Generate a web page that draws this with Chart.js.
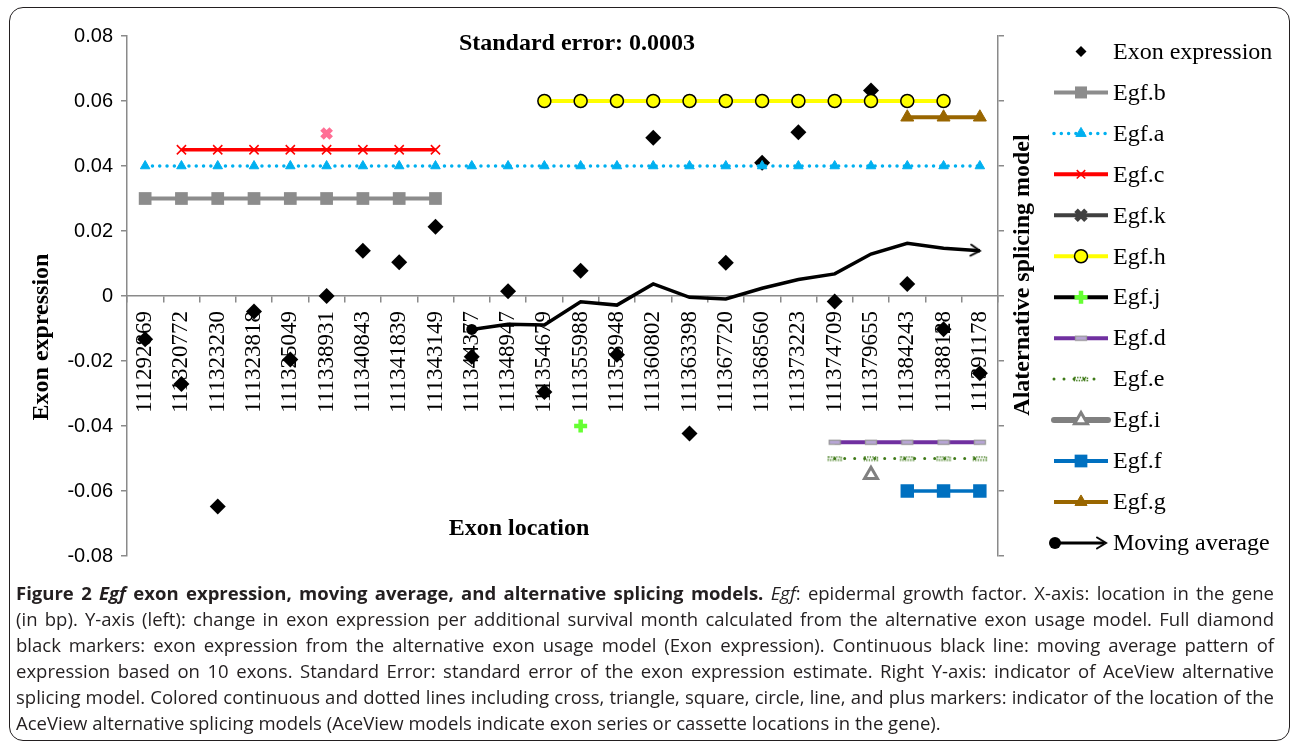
<!DOCTYPE html>
<html>
<head>
<meta charset="utf-8">
<script src="https://cdn.jsdelivr.net/npm/chart.js@4.4.1/dist/chart.umd.min.js"></script>
<style>
html,body{margin:0;padding:0;background:#fff;}
#wrap{position:relative;width:1292px;height:744px;overflow:hidden;background:#fff;}
#frame{position:absolute;left:9px;top:7px;width:1281px;height:734px;box-sizing:border-box;border:1.6px solid #231f20;border-radius:14px;pointer-events:none;}
#chart{position:absolute;left:0;top:0;}
#caption{position:absolute;left:16px;top:580px;width:1258px;font-family:"Open Sans";color:#231f20;line-height:26px;font-size:16px;}
.ln{white-space:nowrap;text-align:justify;text-align-last:justify;}
.ln.last{text-align:left;text-align-last:left;}
#caption.measure .ln{display:inline-block;text-align:left;text-align-last:left;}
</style>
</head>
<body>
<div id="wrap">
  <canvas id="chart" width="1292" height="577"></canvas>
  <div id="frame"></div>
  <div id="caption">
    <div class="ln"><b>Figure 2</b> <b><i>Egf</i> exon expression, moving average, and alternative splicing models.</b> <i>Egf</i>: epidermal growth factor. X-axis: location in the gene</div>
    <div class="ln">(in bp). Y-axis (left): change in exon expression per additional survival month calculated from the alternative exon usage model. Full diamond</div>
    <div class="ln">black markers: exon expression from the alternative exon usage model (Exon expression). Continuous black line: moving average pattern of</div>
    <div class="ln">expression based on 10 exons. Standard Error: standard error of the exon expression estimate. Right Y-axis: indicator of AceView alternative</div>
    <div class="ln">splicing model. Colored continuous and dotted lines including cross, triangle, square, circle, line, and plus markers: indicator of the location of the</div>
    <div class="ln last">AceView alternative splicing models (AceView models indicate exon series or cassette locations in the gene).</div>
  </div>
</div>
<script>
// ---------------- DATA ----------------
const exonLocations = ['111292869','111320772','111323230','111323818','111325049','111338931','111340843','111341839','111343149','111344377','111348947','111354679','111355988','111358948','111360802','111363398','111367720','111368560','111373223','111374709','111379655','111384243','111388128','111391178'];
const yTickLabels = ['-0.08','-0.06','-0.04','-0.02','0','0.02','0.04','0.06','0.08'];
const exonExpression = [-0.0133,-0.0271,-0.0648,-0.0048,-0.0195,0.0000,0.0139,0.0104,0.0213,-0.0187,0.0015,-0.0295,0.0078,-0.0181,0.0487,-0.0423,0.0102,0.0410,0.0504,-0.0017,0.0632,0.0037,-0.0102,-0.0238];
const movingAverage = [null,null,null,null,null,null,null,null,null,-0.0103,-0.0087,-0.0089,-0.0018,-0.0028,0.0037,-0.0004,-0.0009,0.0024,0.0051,0.0068,0.0129,0.0162,0.0147,0.0139];
const egfB = [0.03,0.03,0.03,0.03,0.03,0.03,0.03,0.03,0.03,null,null,null,null,null,null,null,null,null,null,null,null,null,null,null];
const egfA = [0.04,0.04,0.04,0.04,0.04,0.04,0.04,0.04,0.04,0.04,0.04,0.04,0.04,0.04,0.04,0.04,0.04,0.04,0.04,0.04,0.04,0.04,0.04,0.04];
const egfC = [null,0.045,0.045,0.045,0.045,0.045,0.045,0.045,0.045,null,null,null,null,null,null,null,null,null,null,null,null,null,null,null];
const egfK = [null,null,null,null,null,0.05,null,null,null,null,null,null,null,null,null,null,null,null,null,null,null,null,null,null];
const egfH = [null,null,null,null,null,null,null,null,null,null,null,0.06,0.06,0.06,0.06,0.06,0.06,0.06,0.06,0.06,0.06,0.06,0.06,null];
const egfJ = [null,null,null,null,null,null,null,null,null,null,null,null,-0.04,null,null,null,null,null,null,null,null,null,null,null];
const egfD = [null,null,null,null,null,null,null,null,null,null,null,null,null,null,null,null,null,null,null,-0.045,-0.045,-0.045,-0.045,-0.045];
const egfE = [null,null,null,null,null,null,null,null,null,null,null,null,null,null,null,null,null,null,null,-0.05,-0.05,-0.05,-0.05,-0.05];
const egfI = [null,null,null,null,null,null,null,null,null,null,null,null,null,null,null,null,null,null,null,null,-0.055,null,null,null];
const egfF = [null,null,null,null,null,null,null,null,null,null,null,null,null,null,null,null,null,null,null,null,null,-0.06,-0.06,-0.06];
const egfG = [null,null,null,null,null,null,null,null,null,null,null,null,null,null,null,null,null,null,null,null,null,0.055,0.055,0.055];
const chartTitle = 'Standard error: 0.0003';
const xTitle = 'Exon location';
const yTitle = 'Exon expression';
const y2Title = 'Alaternative splicing model';

// ---------------- custom markers ----------------
function mk(w, h, fn) { const c = document.createElement('canvas'); c.width = w; c.height = h; fn(c.getContext('2d')); return c; }
const dMarker = mk(14, 7, g => { g.fillStyle = '#b9a6d8'; g.fillRect(1.5, 1.5, 11, 4); g.strokeStyle = '#9a9a9a'; g.lineWidth = 1.3; g.strokeRect(1.5, 1.5, 11, 4); });
const eMarker = mk(16, 6, g => { g.strokeStyle = '#3f7a18'; g.lineWidth = 1.4; g.setLineDash([1.4, 1.2]); g.strokeRect(1.5, 1.5, 13, 3); });
const arrowHead = mk(30, 16, g => { g.strokeStyle = '#000'; g.lineWidth = 2; g.lineCap = 'round'; g.beginPath(); g.moveTo(6, 2.5); g.lineTo(15, 8); g.lineTo(6, 13.5); g.stroke(); });
const maFirst = movingAverage.findIndex(v => v !== null);
const maLast = movingAverage.length - 1;

// ---------------- datasets ----------------
function model(label, data, o) {
  return Object.assign({ label, data, yAxisID: 'y2', tension: 0, spanGaps: false, order: 1 }, o);
}
const datasets = [
  { label: 'Exon expression', data: exonExpression, yAxisID: 'y', showLine: false, order: 5,
    pointStyle: 'rectRot', pointRadius: 8, pointBackgroundColor: '#000', pointBorderColor: '#000', pointBorderWidth: 0,
    legendMark: { point: { style: 'rectRot', r: 5.5, fill: '#000', stroke: '#000', bw: 0 } } },
  model('Egf.b', egfB, { borderColor: '#8c8c8c', borderWidth: 4, pointStyle: 'rect', pointRadius: 9, pointBackgroundColor: '#8c8c8c', pointBorderColor: '#8c8c8c', pointBorderWidth: 0,
    legendMark: { line: { color: '#8c8c8c', width: 4 }, point: { style: 'rect', r: 8.5, fill: '#8c8c8c', stroke: '#8c8c8c', bw: 0 } } }),
  model('Egf.a', egfA, { borderColor: '#00b0f0', borderWidth: 3.5, borderDash: [0, 7.3], borderCapStyle: 'round', pointStyle: 'triangle', pointRadius: 5.5, pointBackgroundColor: '#00b0f0', pointBorderColor: '#00b0f0', pointBorderWidth: 1,
    legendMark: { line: { color: '#00b0f0', width: 3.5, dash: [0, 7.3], cap: 'round' }, point: { style: 'triangle', r: 6, fill: '#00b0f0', stroke: '#00b0f0', bw: 1 } } }),
  model('Egf.c', egfC, { borderColor: '#ff0000', borderWidth: 3.5, pointStyle: 'crossRot', pointRadius: 6.5, pointBackgroundColor: '#ff0000', pointBorderColor: '#ff0000', pointBorderWidth: 1.5,
    legendMark: { line: { color: '#ff0000', width: 4 }, point: { style: 'crossRot', r: 6, fill: '#ff0000', stroke: '#ff0000', bw: 1.5 } } }),
  model('Egf.k', egfK, { borderColor: '#404040', borderWidth: 4, pointStyle: 'crossRot', pointRadius: 6.5, pointBackgroundColor: '#ff6f95', pointBorderColor: '#ff6f95', pointBorderWidth: 5,
    legendMark: { line: { color: '#404040', width: 4 }, point: { style: 'crossRot', r: 7, fill: '#404040', stroke: '#404040', bw: 5 } } }),
  model('Egf.h', egfH, { borderColor: '#ffff00', borderWidth: 4, pointStyle: 'circle', pointRadius: 6.5, pointBackgroundColor: '#ffff00', pointBorderColor: '#000', pointBorderWidth: 1.5,
    legendMark: { line: { color: '#ffff00', width: 4 }, point: { style: 'circle', r: 6.5, fill: '#ffff00', stroke: '#000', bw: 1.5 } } }),
  model('Egf.j', egfJ, { borderColor: '#000', borderWidth: 4, pointStyle: 'cross', pointRadius: 6.5, pointBackgroundColor: '#66ff33', pointBorderColor: '#66ff33', pointBorderWidth: 4.5,
    legendMark: { line: { color: '#000', width: 4 }, point: { style: 'cross', r: 6.5, fill: '#66ff33', stroke: '#66ff33', bw: 4.5 } } }),
  model('Egf.d', egfD, { borderColor: '#7030a0', borderWidth: 4, pointStyle: dMarker, pointRadius: 5,
    legendMark: { line: { color: '#7030a0', width: 4 }, point: { style: dMarker, r: 5, fill: '#000', stroke: '#000', bw: 0 } } }),
  model('Egf.e', egfE, { borderColor: '#3f7a18', borderWidth: 3, borderDash: [0, 10], borderCapStyle: 'round', pointStyle: eMarker, pointRadius: 5,
    legendMark: { line: { color: '#3f7a18', width: 3, dash: [0, 10], cap: 'round', x2: 1101 }, point: { style: eMarker, r: 5, fill: '#000', stroke: '#000', bw: 0 } } }),
  model('Egf.i', egfI, { borderColor: '#808080', borderWidth: 6, pointStyle: 'triangle', pointRadius: 7.5, pointBackgroundColor: '#fff', pointBorderColor: '#808080', pointBorderWidth: 3,
    legendMark: { line: { color: '#808080', width: 6, cap: 'round' }, point: { style: 'triangle', r: 7.5, fill: '#fff', stroke: '#808080', bw: 3 } } }),
  model('Egf.f', egfF, { borderColor: '#0070c0', borderWidth: 3.5, pointStyle: 'rect', pointRadius: 9.5, pointBackgroundColor: '#0070c0', pointBorderColor: '#0070c0', pointBorderWidth: 0,
    legendMark: { line: { color: '#0070c0', width: 4 }, point: { style: 'rect', r: 9, fill: '#0070c0', stroke: '#0070c0', bw: 0 } } }),
  model('Egf.g', egfG, { borderColor: '#996600', borderWidth: 4, pointStyle: 'triangle', pointRadius: 7.5, pointBackgroundColor: '#996600', pointBorderColor: '#996600', pointBorderWidth: 1,
    legendMark: { line: { color: '#996600', width: 4 }, point: { style: 'triangle', r: 7, fill: '#996600', stroke: '#996600', bw: 1 } } }),
  { label: 'Moving average', data: movingAverage, yAxisID: 'y', order: 2, tension: 0,
    borderColor: '#000', borderWidth: 3.5,
    pointStyle: c => (c.dataIndex === maLast ? arrowHead : 'circle'),
    pointRadius: c => (c.dataIndex === maFirst ? 5.5 : (c.dataIndex === maLast ? 5 : 0)),
    pointRotation: 4,
    pointBackgroundColor: '#000', pointBorderColor: '#000', pointBorderWidth: 0,
    legendMark: { line: { color: '#000', width: 3, x1: 1055, x2: 1104 }, point: { style: 'circle', r: 6, fill: '#000', stroke: '#000', bw: 0, x: 1055 }, point2: { style: arrowHead, r: 5, x: 1106 } } }
];

// ---------------- overlay plugin: titles + legend ----------------
function drawMark(ctx, p, x, y) {
  ctx.save();
  ctx.fillStyle = p.fill || '#000';
  ctx.strokeStyle = p.stroke || '#000';
  ctx.lineWidth = p.bw || 0;
  Chart.helpers.drawPoint(ctx, { pointStyle: p.style, radius: p.r, rotation: 0, borderWidth: p.bw || 0 }, x, y);
  ctx.restore();
}
const overlay = {
  id: 'overlay',
  afterDraw(chart) {
    const ctx = chart.ctx;
    const a = chart.chartArea;
    ctx.save();
    ctx.fillStyle = '#000';
    ctx.textAlign = 'center';
    ctx.textBaseline = 'middle';
    ctx.font = 'bold 24px "Liberation Serif"';
    ctx.fillText(chartTitle, a.left + 450, a.top + 8);
    ctx.fillText(xTitle, a.left + 392, a.top + 493);
    ctx.save();
    ctx.translate(42, a.top + 301);
    ctx.rotate(-Math.PI / 2);
    ctx.fillText(yTitle, 0, 0);
    ctx.restore();
    ctx.save();
    ctx.translate(a.right + 25, a.top + 239);
    ctx.rotate(-Math.PI / 2);
    ctx.fillText(y2Title, 0, 0);
    ctx.restore();

    // legend
    const x1 = 1054, x2 = 1108, xm = 1081, xt = 1113;
    const y0 = 51.5, step = 40.95;
    ctx.font = '24px "Liberation Serif"';
    ctx.textAlign = 'left';
    chart.data.datasets.forEach((ds, i) => {
      const y = y0 + i * step;
      const m = ds.legendMark || {};
      if (m.line) {
        ctx.save();
        ctx.strokeStyle = m.line.color;
        ctx.lineWidth = m.line.width;
        ctx.lineCap = m.line.cap || 'butt';
        ctx.setLineDash(m.line.dash || []);
        ctx.beginPath();
        ctx.moveTo(m.line.x1 || x1, y);
        ctx.lineTo(m.line.x2 || x2, y);
        ctx.stroke();
        ctx.restore();
      }
      if (m.point) drawMark(ctx, m.point, m.point.x || xm, y);
      if (m.point2) drawMark(ctx, m.point2, m.point2.x || xm, y);
      ctx.fillStyle = '#000';
      ctx.fillText(ds.label, xt, y + 1);
    });
    ctx.restore();
  }
};

const axisGrey = '#8a8a8a';
new Chart(document.getElementById('chart'), {
  type: 'line',
  data: { labels: exonLocations, datasets },
  plugins: [overlay],
  options: {
    responsive: false,
    animation: false,
    devicePixelRatio: 1,
    layout: { padding: { left: 10, right: 284, top: 36, bottom: 21 } },
    plugins: { legend: { display: false }, title: { display: false }, tooltip: { enabled: false } },
    elements: { line: { tension: 0 } },
    scales: {
      x: {
        type: 'category',
        offset: true,
        position: { y: 0 },
        border: { display: true, color: axisGrey, width: 1.5 },
        grid: { display: true, drawOnChartArea: false, drawTicks: true, tickLength: 6, offset: true, color: axisGrey, lineWidth: 1.5 },
        ticks: { autoSkip: false, minRotation: 90, maxRotation: 90, padding: 9, color: '#000', font: { family: 'Liberation Serif', size: 23 } }
      },
      y: {
        position: 'left',
        min: -0.08, max: 0.08,
        border: { display: true, color: axisGrey, width: 1.5 },
        grid: { display: true, drawOnChartArea: false, drawTicks: true, tickLength: 6, color: axisGrey, lineWidth: 1.5 },
        ticks: { stepSize: 0.02, padding: 8, color: '#000', font: { family: 'Liberation Sans', size: 20 },
          callback: (v) => { const k = Math.round((v + 0.08) / 0.02); return yTickLabels[k] !== undefined ? yTickLabels[k] : ''; } },
        afterFit: s => { s.width = 117; }
      },
      y2: {
        position: 'right',
        min: -0.08, max: 0.08,
        border: { display: true, color: axisGrey, width: 1.5 },
        grid: { display: true, drawOnChartArea: false, drawTicks: true, tickLength: 6, color: axisGrey, lineWidth: 1.5 },
        ticks: { stepSize: 0.02, padding: 0, callback: () => '' },
        afterFit: s => { s.width = 10; }
      }
    }
  }
});

// caption sizing
(function () {
  const cap = document.getElementById('caption');
  cap.classList.add('measure');
  let maxW = 0;
  cap.querySelectorAll('.ln').forEach(l => { maxW = Math.max(maxW, l.getBoundingClientRect().width); });
  const fs = 16 * 1252 / maxW;
  cap.style.fontSize = fs.toFixed(2) + 'px';
  cap.classList.remove('measure');
})();
</script>
</body>
</html>
